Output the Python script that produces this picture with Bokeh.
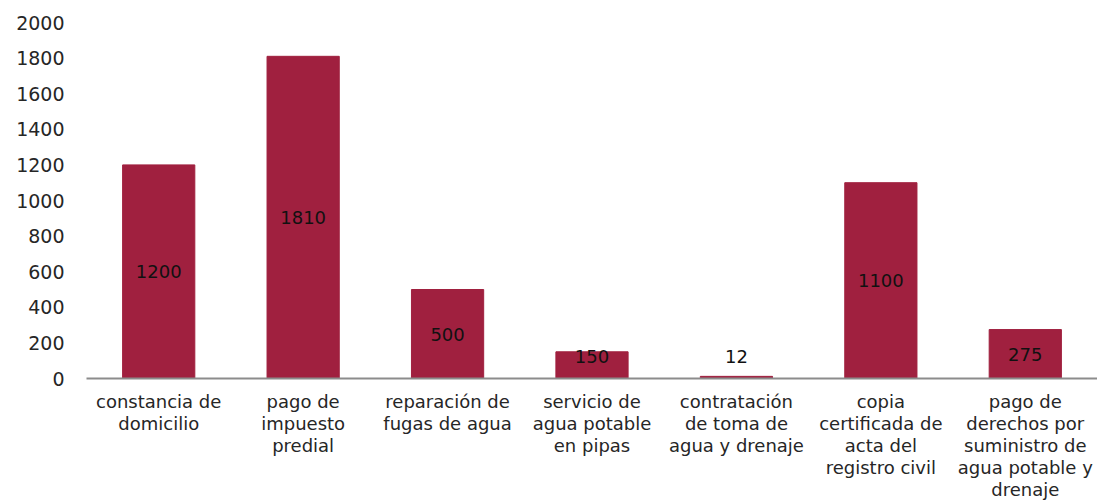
from bokeh.plotting import figure
from bokeh.models import ColumnDataSource, Range1d, FixedTicker
from bokeh.core.properties import value
from bokeh.embed import file_html
from bokeh.resources import INLINE

categories = [
    "constancia de\ndomicilio",
    "pago de\nimpuesto\npredial",
    "reparación de\nfugas de agua",
    "servicio de\nagua potable\nen pipas",
    "contratación\nde toma de\nagua y drenaje",
    "copia\ncertificada de\nacta del\nregistro civil",
    "pago de\nderechos por\nsuministro de\nagua potable y\ndrenaje",
]
values = [1200, 1810, 500, 150, 12, 1100, 275]
y_ticks = [0, 200, 400, 600, 800, 1000, 1200, 1400, 1600, 1800, 2000]

FONT = "DejaVu Sans"
BAR = "#A0203F"

label_y = [max(v / 2, 125) for v in values]
src = ColumnDataSource(dict(cat=categories, val=values, ly=label_y,
                            txt=[str(v) for v in values]))

p = figure(x_range=categories, y_range=Range1d(0, 2000),
           frame_width=1011, frame_height=356, output_backend="svg",
           toolbar_location=None, min_border_left=86, min_border_right=0,
           min_border_top=22, min_border_bottom=0)
p.outline_line_color = None
p.grid.visible = False

p.vbar(x="cat", top="val", width=0.5, source=src, fill_color=BAR,
       line_color=BAR)
p.text(x="cat", y="ly", text="txt", source=src, text_align="center",
       text_baseline="middle", text_font=value(FONT),
       text_font_size="18px", text_color="#111111")

p.yaxis.ticker = FixedTicker(ticks=y_ticks)
p.yaxis.axis_line_color = None
p.yaxis.major_tick_line_color = None
p.yaxis.minor_tick_line_color = None
p.yaxis.major_tick_out = 0
p.yaxis.major_label_standoff = 22
p.yaxis.major_label_text_font = FONT
p.yaxis.major_label_text_font_size = "19px"
p.yaxis.major_label_text_color = "#262626"

p.xaxis.axis_line_color = "#8c8c8c"
p.xaxis.axis_line_width = 2
p.xaxis.major_tick_line_color = None
p.xaxis.minor_tick_line_color = None
p.xaxis.major_tick_out = 0
p.xaxis.major_label_standoff = 12
p.xaxis.major_label_text_font = FONT
p.xaxis.major_label_text_font_size = "18px"
p.xaxis.major_label_text_line_height = 1.05
p.xaxis.major_label_text_align = "center"
p.xaxis.major_label_text_baseline = "top"
p.xaxis.major_label_text_color = "#262626"

open("out.html", "w").write(file_html(p, INLINE))
